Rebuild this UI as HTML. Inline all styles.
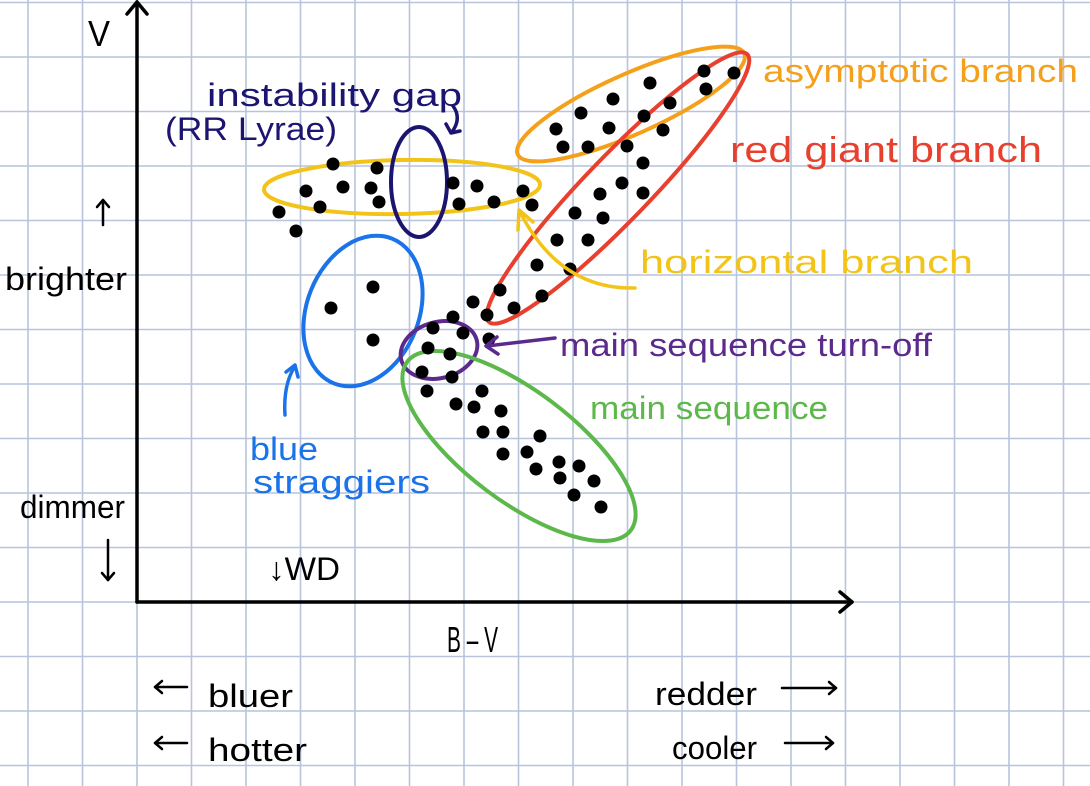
<!DOCTYPE html>
<html><head><meta charset="utf-8"><style>
html,body{margin:0;padding:0;background:#fff;}
svg{display:block;font-family:"Liberation Sans",sans-serif;}
</style></head><body>
<svg id="chart" width="1090" height="786" viewBox="0 0 1090 786">
<g id="grid"></g>
<g id="ellipses" fill="none" stroke-width="4">
 <ellipse cx="402" cy="187" rx="138" ry="27" stroke="#f2c318" transform="rotate(-1 402 187)"/>
 <ellipse cx="419" cy="182" rx="28" ry="55" stroke="#1b1470"/>
 <ellipse cx="631" cy="104" rx="124" ry="30" stroke="#f5a01a" transform="rotate(-24 631 104)"/>
 <ellipse cx="618" cy="188" rx="186" ry="32" stroke="#e8402e" transform="rotate(-46 618 188)"/>
 <ellipse cx="363" cy="311" rx="56" ry="78" stroke="#1a73e8" transform="rotate(22 363 311)"/>
 <ellipse cx="439" cy="350" rx="39" ry="28" stroke="#5b2a8c" transform="rotate(-15 439 350)"/>
 <ellipse cx="519" cy="446" rx="140" ry="55" stroke="#5cb84a" transform="rotate(37 519 446)"/>
</g>
<g id="dots"></g>
<g stroke="#000" stroke-width="3.5" fill="none" stroke-linecap="round" stroke-linejoin="round">
 <line x1="137" y1="2" x2="137" y2="602"/>
 <polyline points="127,14 137,2 147,14"/>
 <line x1="137" y1="602" x2="852" y2="602"/>
 <polyline points="840,592 852,602 840,612"/>
 <line x1="103" y1="225" x2="103" y2="200" stroke-width="2.5"/>
 <polyline points="97,207 103,200 109,207" stroke-width="2.5"/>
 <line x1="108" y1="540" x2="108" y2="580" stroke-width="2.5"/>
 <polyline points="102,573 108,580 114,573" stroke-width="2.5"/>
 <line x1="155" y1="687" x2="187" y2="687" stroke-width="2.5"/>
 <polyline points="162,681 155,687 162,693" stroke-width="2.5"/>
 <line x1="155" y1="743" x2="187" y2="743" stroke-width="2.5"/>
 <polyline points="162,737 155,743 162,749" stroke-width="2.5"/>
 <line x1="782" y1="688" x2="836" y2="688" stroke-width="2.5"/>
 <polyline points="829,682 836,688 829,694" stroke-width="2.5"/>
 <line x1="785" y1="743" x2="833" y2="743" stroke-width="2.5"/>
 <polyline points="826,737 833,743 826,749" stroke-width="2.5"/>
</g>
<g fill="none" stroke-width="3.5" stroke-linecap="round" stroke-linejoin="round">
 <path d="M453,106 Q462,118 452,132 M446,124 L451,133 L460,131" stroke="#1b1470"/>
 <path d="M635,288 Q560,290 520,212 M518,230 L519,210 L533,222" stroke="#f2c318"/>
 <path d="M285,415 Q283,385 295,366 M286,372 L295,365 L298,377" stroke="#1a73e8"/>
 <path d="M555,338 L487,346 M497,337 L486,346 L498,354" stroke="#5b2a8c"/>
</g>
<g font-size="32">
 <text x="88" y="46" font-size="36" textLength="22" lengthAdjust="spacingAndGlyphs">V</text>
 <text x="447" y="652" font-size="36" textLength="51" lengthAdjust="spacingAndGlyphs">B – V</text>
 <text x="5" y="290" textLength="122" lengthAdjust="spacingAndGlyphs">brighter</text>
 <text x="20" y="518" textLength="105" lengthAdjust="spacingAndGlyphs">dimmer</text>
 <text x="268" y="580" textLength="72" lengthAdjust="spacingAndGlyphs">↓WD</text>
 <text x="208" y="707" textLength="85" lengthAdjust="spacingAndGlyphs">bluer</text>
 <text x="208" y="761" textLength="99" lengthAdjust="spacingAndGlyphs">hotter</text>
 <text x="655" y="705" textLength="102" lengthAdjust="spacingAndGlyphs">redder</text>
 <text x="672" y="759" textLength="85" lengthAdjust="spacingAndGlyphs">cooler</text>
 <text x="207" y="106" fill="#1b1470" textLength="255" lengthAdjust="spacingAndGlyphs">instability gap</text>
 <text x="165" y="140" fill="#1b1470" textLength="172" lengthAdjust="spacingAndGlyphs">(RR Lyrae)</text>
 <text x="763" y="82" fill="#f5a01a" textLength="315" lengthAdjust="spacingAndGlyphs">asymptotic branch</text>
 <text x="730" y="162" font-size="36" fill="#e8402e" textLength="312" lengthAdjust="spacingAndGlyphs">red giant branch</text>
 <text x="640" y="273" fill="#f2c318" textLength="333" lengthAdjust="spacingAndGlyphs">horizontal branch</text>
 <text x="560" y="356" fill="#5b2a8c" textLength="372" lengthAdjust="spacingAndGlyphs">main sequence turn-off</text>
 <text x="590" y="419" fill="#5cb84a" textLength="238" lengthAdjust="spacingAndGlyphs">main sequence</text>
 <text x="250" y="460" fill="#1a73e8" textLength="68" lengthAdjust="spacingAndGlyphs">blue</text>
 <text x="253" y="493" fill="#1a73e8" textLength="177" lengthAdjust="spacingAndGlyphs">straggiers</text>
</g>
</svg>
<script>
// star positions in chart units (B-V index units, V units); 10 units per grid-cell-ish
const hbX = [14.2,15.9,16.9,18.3,19.6,20.6,23.4,24.0,24.2,31.6,32.2,34.0,35.7,38.6,39.5];
const hbY = [39.0,37.1,41.1,39.5,43.8,41.5,41.4,43.4,40.0,41.9,39.8,41.6,40.0,41.1,39.7];
const giantX = [41.9,42.6,44.4,45.1,47.2,47.6,49.0,50.7,51.3,52.6,53.3,56.7,56.9,59.7,50.6,48.5,50.6,46.3,43.8,46.6,42.0,45.1,40.0,43.3,36.3,40.5,37.7,33.6,35.0];
const giantY = [47.3,45.5,48.9,45.5,47.4,50.3,45.6,48.6,51.9,47.2,49.9,53.1,51.3,52.9,43.9,41.9,40.9,40.8,38.9,38.4,36.2,36.2,33.7,33.3,31.2,30.6,29.4,30.0,28.7];
const bsX = [19.4,23.6,23.6];
const bsY = [29.4,31.5,26.2];
const msX = [31.6,29.6,32.6,35.2,29.1,31.3,28.5,31.5,29.0,34.5,31.9,33.7,36.4,34.6,36.6,40.3,36.6,39.0,39.9,42.2,44.2,42.3,45.7,43.7,46.4];
const msY = [28.5,27.4,26.9,26.3,25.4,24.8,23.0,22.5,21.1,21.1,19.8,19.5,19.1,17.0,17.0,16.6,14.8,15.0,13.3,14.0,13.6,12.4,12.1,10.7,9.5];

const X0 = 137, Y0 = 602, PX = 10;
function xScale(v){ return X0 + v*PX; }
function yScale(v){ return Y0 - v*PX; }
const NS = "http://www.w3.org/2000/svg";

const grid = document.getElementById('grid');
const step = 54.5;
for (let x = X0 - 2*step; x < 1090; x += step) {
  const l = document.createElementNS(NS,'line');
  l.setAttribute('x1',x); l.setAttribute('x2',x); l.setAttribute('y1',0); l.setAttribute('y2',786);
  l.setAttribute('stroke','#b7c4dc'); l.setAttribute('stroke-width','1.6');
  
  
  grid.appendChild(l);
}
for (let y = Y0 - 11*step; y < 786; y += step) {
  const l = document.createElementNS(NS,'line');
  l.setAttribute('x1',0); l.setAttribute('x2',1090); l.setAttribute('y1',y); l.setAttribute('y2',y);
  l.setAttribute('stroke','#b7c4dc'); l.setAttribute('stroke-width','1.6');
  
  
  grid.appendChild(l);
}

const dots = document.getElementById('dots');
function drawGroup(xs, ys, name){
  for (let i = 0; i < xs.length; i++) {
    const c = document.createElementNS(NS,'circle');
    c.setAttribute('cx', xScale(xs[i]));
    c.setAttribute('cy', yScale(ys[i]));
    c.setAttribute('r', 6.5);
    c.setAttribute('fill', '#000');
    
    
    dots.appendChild(c);
  }
}
drawGroup(hbX, hbY, 'horizontal-branch-star');
drawGroup(giantX, giantY, 'giant-star');
drawGroup(bsX, bsY, 'blue-straggler-star');
drawGroup(msX, msY, 'main-sequence-star');
</script>
</body></html>
